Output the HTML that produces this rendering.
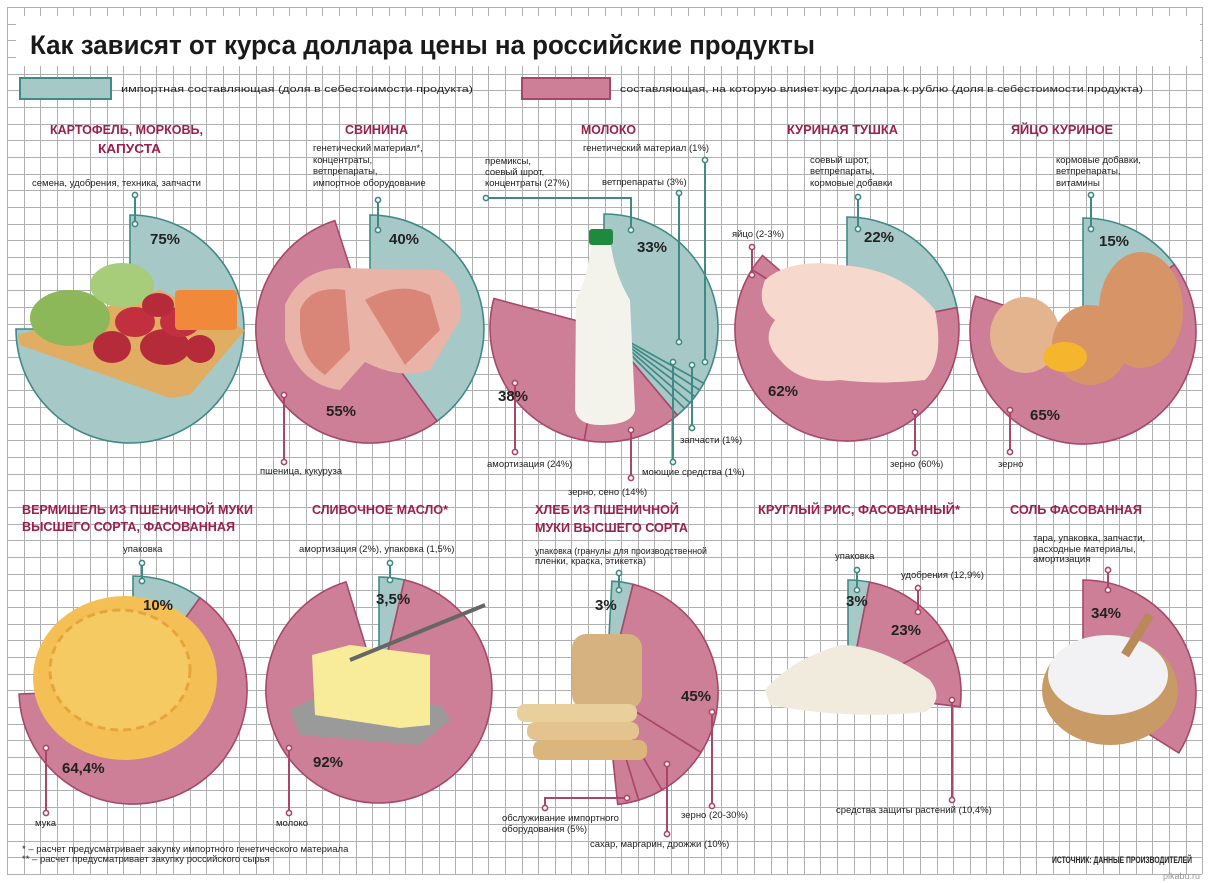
<!DOCTYPE html>
<html><head><meta charset="utf-8"><style>
html,body{margin:0;padding:0;background:#fff}
svg{display:block}
text{font-family:"Liberation Sans","DejaVu Sans",sans-serif}
.h{fill:#9c1f4e;font-weight:bold;font-size:13px}
.l{fill:#222;font-size:9.5px}
.p{fill:#222;font-weight:bold;font-size:15px}
</style></head><body>
<svg id="s" width="1210" height="883" viewBox="0 0 1210 883" xmlns="http://www.w3.org/2000/svg">
<rect width="1210" height="883" fill="#fff"/>
<g id="grid" stroke="#b0b0b0" stroke-width="1" shape-rendering="crispEdges"></g>
<rect x="16" y="16" width="1184" height="50" fill="#fff"/>
<text x="30" y="54" font-size="27" font-weight="bold" fill="#1a1a1a" textLength="785" lengthAdjust="spacingAndGlyphs">Как зависят от курса доллара цены на российские продукты</text>
<rect x="20" y="78" width="91" height="21" fill="#a6c8c6" stroke="#3f8a85" stroke-width="2"/>
<text x="121" y="92" class="l" font-size="12" textLength="352" lengthAdjust="spacingAndGlyphs">импортная составляющая  (доля в себестоимости продукта)</text>
<rect x="522" y="78" width="88" height="21" fill="#cc7f97" stroke="#a8476a" stroke-width="2"/>
<text x="620" y="92" class="l" font-size="12" textLength="523" lengthAdjust="spacingAndGlyphs">составляющая, на которую влияет курс доллара к рублю (доля в себестоимости продукта)</text>
<g id="pies"></g>
<g id="food">
<polygon points="18,335 160,290 245,330 190,395 170,398 20,345" fill="#e0ad62"/>
<ellipse cx="70" cy="318" rx="40" ry="28" fill="#8db85a"/>
<ellipse cx="122" cy="285" rx="32" ry="22" fill="#a7cc7a"/>
<ellipse cx="112" cy="347" rx="19" ry="16" fill="#b52b3a"/>
<ellipse cx="135" cy="322" rx="20" ry="15" fill="#c2303f"/>
<ellipse cx="165" cy="347" rx="25" ry="18" fill="#b52b3a"/>
<ellipse cx="180" cy="322" rx="20" ry="15" fill="#c2303f"/>
<ellipse cx="200" cy="349" rx="15" ry="14" fill="#b52b3a"/>
<ellipse cx="158" cy="305" rx="16" ry="12" fill="#b52b3a"/>
<rect x="175" y="290" width="62" height="40" rx="4" fill="#f08a3a"/>
<path d="M285 305 Q300 270 340 268 L440 270 Q465 285 460 320 L430 370 Q400 380 365 362 L340 390 Q300 385 285 340Z" fill="#e9b3a8"/>
<path d="M300 310 Q310 285 345 290 L350 350 L325 375 Q302 360 300 330Z" fill="#d98577"/>
<path d="M365 300 Q400 280 430 295 L440 330 L405 365 Z" fill="#d98577"/>
<rect x="589" y="229" width="24" height="16" rx="3" fill="#1f8a3e"/>
<path d="M591 245 L611 245 Q615 275 630 300 L635 410 Q632 425 600 425 Q578 425 575 410 L576 300 Q588 275 591 245Z" fill="#f3f3ec"/>
<path d="M765 280 Q790 258 840 265 Q900 268 935 310 Q945 360 925 380 Q880 385 840 380 Q800 385 780 360 Q760 340 775 320 Q755 305 765 280Z" fill="#f6d9cc"/>
<ellipse cx="1141" cy="310" rx="42" ry="58" fill="#d79467"/>
<ellipse cx="1025" cy="335" rx="35" ry="38" fill="#e4b48f"/>
<ellipse cx="1090" cy="345" rx="38" ry="40" fill="#d79467"/>
<ellipse cx="1065" cy="357" rx="22" ry="15" fill="#f5b52c"/>
<ellipse cx="125" cy="678" rx="92" ry="82" fill="#f4c055"/>
<ellipse cx="120" cy="670" rx="70" ry="60" fill="#f6ca63" stroke="#e6a53a" stroke-width="3" stroke-dasharray="8 5"/>
<polygon points="290,710 310,700 440,705 450,720 420,745 300,735" fill="#9a9a9a"/>
<polygon points="312,655 350,645 430,655 430,725 400,728 315,715" fill="#f8ec9a"/>
<line x1="350" y1="660" x2="485" y2="605" stroke="#666" stroke-width="4"/>
<rect x="572" y="634" width="70" height="75" rx="14" fill="#d5b27f"/>
<rect x="517" y="704" width="120" height="18" rx="8" fill="#e9cf9c"/>
<rect x="527" y="722" width="112" height="18" rx="8" fill="#e3c48e"/>
<rect x="533" y="740" width="114" height="20" rx="8" fill="#dcb57d"/>
<path d="M765 690 Q790 660 840 645 Q880 645 930 680 Q945 700 925 712 Q850 720 770 705Z" fill="#f0ebdd"/>
<ellipse cx="1110" cy="690" rx="68" ry="55" fill="#c79a66"/>
<ellipse cx="1108" cy="675" rx="60" ry="40" fill="#f2f2f4"/>
<line x1="1125" y1="655" x2="1150" y2="615" stroke="#b9895a" stroke-width="9"/>
</g>
<g id="cn"></g>
<text class="h" x="50" y="134" textLength="153" lengthAdjust="spacingAndGlyphs">КАРТОФЕЛЬ, МОРКОВЬ,</text>
<text class="h" x="98" y="153" textLength="63" lengthAdjust="spacingAndGlyphs">КАПУСТА</text>
<text class="h" x="345" y="134" textLength="63" lengthAdjust="spacingAndGlyphs">СВИНИНА</text>
<text class="h" x="581" y="134" textLength="55" lengthAdjust="spacingAndGlyphs">МОЛОКО</text>
<text class="h" x="787" y="134" textLength="111" lengthAdjust="spacingAndGlyphs">КУРИНАЯ ТУШКА</text>
<text class="h" x="1011" y="134" textLength="102" lengthAdjust="spacingAndGlyphs">ЯЙЦО КУРИНОЕ</text>
<text class="h" x="22" y="514" textLength="231" lengthAdjust="spacingAndGlyphs">ВЕРМИШЕЛЬ ИЗ ПШЕНИЧНОЙ МУКИ</text>
<text class="h" x="22" y="531" textLength="213" lengthAdjust="spacingAndGlyphs">ВЫСШЕГО СОРТА, ФАСОВАННАЯ</text>
<text class="h" x="312" y="514" textLength="136" lengthAdjust="spacingAndGlyphs">СЛИВОЧНОЕ МАСЛО*</text>
<text class="h" x="535" y="514" textLength="144" lengthAdjust="spacingAndGlyphs">ХЛЕБ ИЗ ПШЕНИЧНОЙ</text>
<text class="h" x="535" y="532" textLength="153" lengthAdjust="spacingAndGlyphs">МУКИ ВЫСШЕГО СОРТА</text>
<text class="h" x="758" y="514" textLength="202" lengthAdjust="spacingAndGlyphs">КРУГЛЫЙ РИС, ФАСОВАННЫЙ*</text>
<text class="h" x="1010" y="514" textLength="132" lengthAdjust="spacingAndGlyphs">СОЛЬ ФАСОВАННАЯ</text>
<text class="p" x="150" y="244">75%</text>
<text class="p" x="389" y="244">40%</text>
<text class="p" x="637" y="252">33%</text>
<text class="p" x="498" y="401">38%</text>
<text class="p" x="326" y="416">55%</text>
<text class="p" x="864" y="242">22%</text>
<text class="p" x="768" y="396">62%</text>
<text class="p" x="1099" y="246">15%</text>
<text class="p" x="1030" y="420">65%</text>
<text class="p" x="143" y="610">10%</text>
<text class="p" x="62" y="773">64,4%</text>
<text class="p" x="376" y="604">3,5%</text>
<text class="p" x="313" y="767">92%</text>
<text class="p" x="595" y="610">3%</text>
<text class="p" x="681" y="701">45%</text>
<text class="p" x="846" y="606">3%</text>
<text class="p" x="891" y="635">23%</text>
<text class="p" x="1091" y="618">34%</text>
<text class="l" x="32" y="186">семена, удобрения, техника, запчасти</text>
<text class="l" x="313" y="151">генетический материал*,</text>
<text class="l" x="313" y="163">концентраты,</text>
<text class="l" x="313" y="174">ветпрепараты,</text>
<text class="l" x="313" y="186">импортное оборудование</text>
<text class="l" x="260" y="474">пшеница, кукуруза</text>
<text class="l" x="485" y="164">премиксы,</text>
<text class="l" x="485" y="175">соевый шрот,</text>
<text class="l" x="485" y="186">концентраты (27%)</text>
<text class="l" x="583" y="151">генетический материал (1%)</text>
<text class="l" x="602" y="185">ветпрепараты (3%)</text>
<text class="l" x="680" y="443">запчасти (1%)</text>
<text class="l" x="642" y="475">моющие средства (1%)</text>
<text class="l" x="487" y="467">амортизация (24%)</text>
<text class="l" x="568" y="495">зерно, сено (14%)</text>
<text class="l" x="810" y="163">соевый шрот,</text>
<text class="l" x="810" y="174">ветпрепараты,</text>
<text class="l" x="810" y="186">кормовые добавки</text>
<text class="l" x="732" y="237">яйцо (2-3%)</text>
<text class="l" x="890" y="467">зерно (60%)</text>
<text class="l" x="1056" y="163">кормовые добавки,</text>
<text class="l" x="1056" y="174">ветпрепараты,</text>
<text class="l" x="1056" y="186">витамины</text>
<text class="l" x="998" y="467">зерно</text>
<text class="l" x="123" y="552">упаковка</text>
<text class="l" x="35" y="826">мука</text>
<text class="l" x="299" y="552">амортизация (2%), упаковка (1,5%)</text>
<text class="l" x="276" y="826">молоко</text>
<text class="l" x="535" y="554" textLength="172" lengthAdjust="spacingAndGlyphs">упаковка (гранулы для производственной</text>
<text class="l" x="535" y="564">пленки, краска, этикетка)</text>
<text class="l" x="502" y="821">обслуживание импортного</text>
<text class="l" x="502" y="832">оборудования (5%)</text>
<text class="l" x="681" y="818">зерно (20-30%)</text>
<text class="l" x="590" y="847">сахар, маргарин, дрожжи (10%)</text>
<text class="l" x="835" y="559">упаковка</text>
<text class="l" x="901" y="578">удобрения (12,9%)</text>
<text class="l" x="836" y="813">средства защиты растений (10,4%)</text>
<text class="l" x="1033" y="541">тара, упаковка, запчасти,</text>
<text class="l" x="1033" y="552">расходные материалы,</text>
<text class="l" x="1033" y="562">амортизация</text>
<text class="l" x="22" y="852" font-size="7.5">* – расчет предусматривает закупку импортного генетического материала</text>
<text class="l" x="22" y="862" font-size="7.5">** – расчет предусматривает закупку российского сырья</text>
<text class="l" x="1052" y="863" font-size="8" font-weight="bold" textLength="140" lengthAdjust="spacingAndGlyphs">ИСТОЧНИК: ДАННЫЕ ПРОИЗВОДИТЕЛЕЙ</text>
<text x="1163" y="879" font-size="9" fill="#999">pikabu.ru</text>
</svg>
<script>
var NS="http://www.w3.org/2000/svg";
var gr=document.getElementById("grid");
for(var i=0;i<=72;i++){var x=Math.round(7+i*16.6)+0.5;var l=document.createElementNS(NS,"line");l.setAttribute("x1",x);l.setAttribute("x2",x);l.setAttribute("y1",7);l.setAttribute("y2",874);gr.appendChild(l);}
for(var j=0;j<=52;j++){var y=Math.round(7+j*16.67)+0.5;var l=document.createElementNS(NS,"line");l.setAttribute("y1",y);l.setAttribute("y2",y);l.setAttribute("x1",7);l.setAttribute("x2",1202);gr.appendChild(l);}
var T=["#a6c8c6","#3f8a85"],P=["#cc7f97","#a8476a"];
function pt(cx,cy,r,a){a=a*Math.PI/180;return[(cx+r*Math.sin(a)).toFixed(1),(cy-r*Math.cos(a)).toFixed(1)];}
function w(cx,cy,r,a1,a2,c){var p1=pt(cx,cy,r,a1),p2=pt(cx,cy,r,a2);var lg=(a2-a1)>180?1:0;
var e=document.createElementNS(NS,"path");e.setAttribute("d","M"+cx+" "+cy+"L"+p1+"A"+r+" "+r+" 0 "+lg+" 1 "+p2+"Z");
e.setAttribute("fill",c[0]);e.setAttribute("stroke",c[1]);e.setAttribute("stroke-width","1.6");document.getElementById("pies").appendChild(e);}
var D=[[130,329,114,[[0,270,T]]],
[370,329,114,[[0,144,T],[144,342,P]]],
[604,328,114,[[0,119,T],[119,123,T],[123,127,T],[127,131,T],[131,135,T],[135,140,T],[140,190,P],[190,285,P]]],
[847,329,112,[[0,79,T],[79,302,P],[302,311,P]]],
[1083,331,113,[[0,54,T],[54,288,P]]],
[133,690,114,[[0,36,T],[36,268,P]]],
[379,690,113,[[0,13,T],[13,343,P]]],
[606,693,112,[[3,14,T],[14,122,P],[122,150,P],[150,163,P],[163,174,P]]],
[848,693,113,[[0,11,T],[11,62,P],[62,97,P]]],
[1083,693,113,[[0,122,P]]]];
D.forEach(function(d){d[3].forEach(function(s){w(d[0],d[1],d[2],s[0],s[1],s[2]);});});
var L=[[[135,195,135,224],T],[[378,200,378,230],T],[[284,395,284,462],P],
[[486,198,631,198,631,230],T],[[705,160,705,362],T],[[679,193,679,342],T],[[692,365,692,428],T],[[673,362,673,462],T],
[[515,383,515,452],P],[[631,430,631,478],P],
[[858,197,858,229],T],[[752,247,752,275],P],[[915,412,915,453],P],
[[1091,195,1091,229],T],[[1010,410,1010,452],P],
[[142,563,142,581],T],[[46,748,46,813],P],[[390,563,390,580],T],[[289,748,289,813],P],
[[619,573,619,590],T],[[545,808,545,798,627,798],P],[[712,712,712,806],P],[[667,764,667,834],P],
[[857,570,857,590],T],[[918,588,918,612],P],[[952,700,952,800],P],[[1108,570,1108,590],P]];
var g=document.getElementById("cn");
L.forEach(function(l){var a=l[0],c=l[1][1];var pl=document.createElementNS(NS,"polyline");pl.setAttribute("points",a.join(" "));
pl.setAttribute("fill","none");pl.setAttribute("stroke",c);pl.setAttribute("stroke-width","2");g.appendChild(pl);
[[a[0],a[1]],[a[a.length-2],a[a.length-1]]].forEach(function(p){var ci=document.createElementNS(NS,"circle");ci.setAttribute("cx",p[0]);ci.setAttribute("cy",p[1]);ci.setAttribute("r","2.6");ci.setAttribute("fill","#fff");ci.setAttribute("stroke",c);ci.setAttribute("stroke-width","1.6");g.appendChild(ci);});});
</script>
</body></html>
